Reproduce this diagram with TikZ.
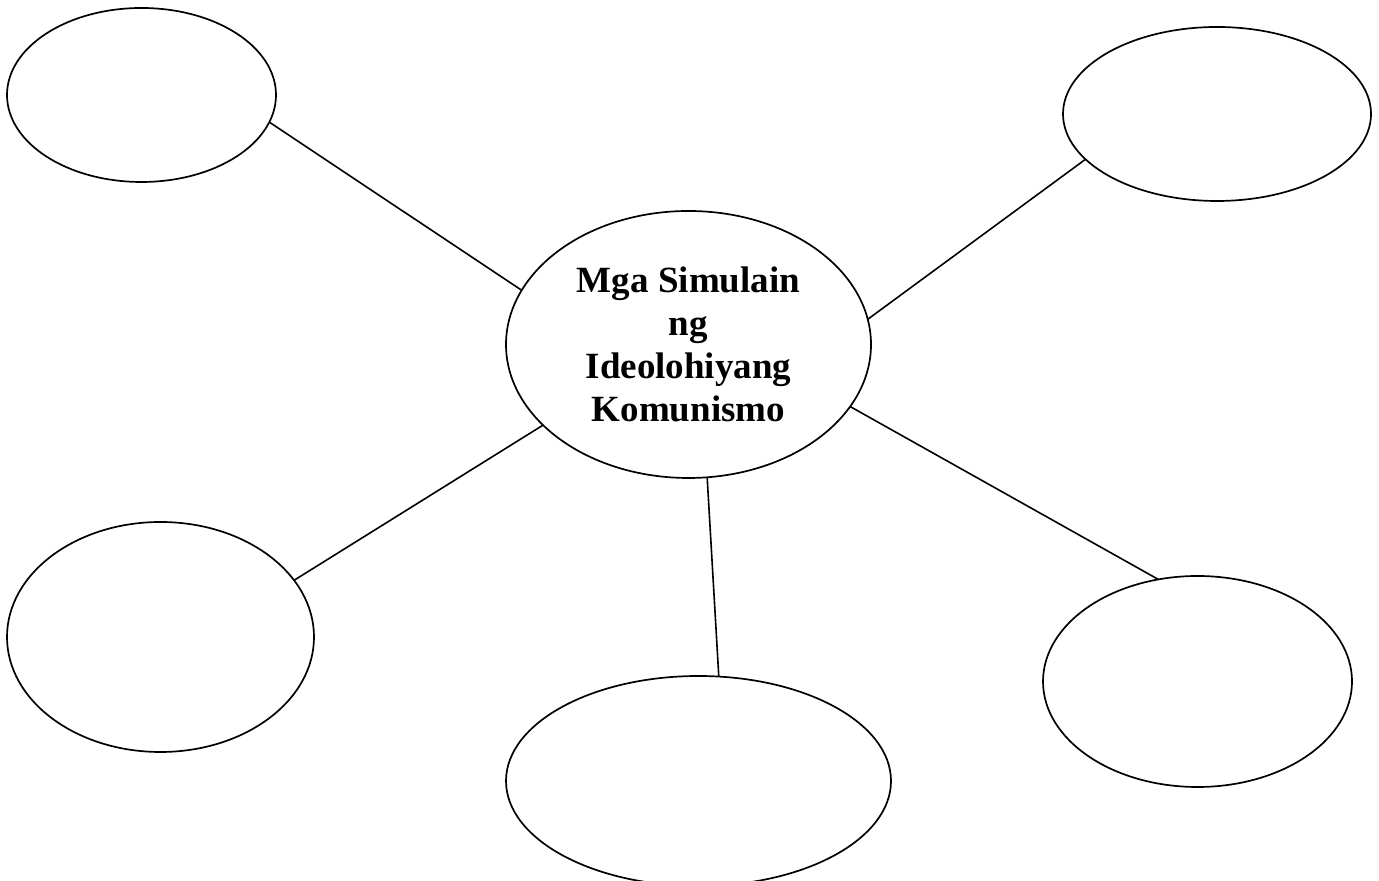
\documentclass[tikz,border=0pt]{standalone}
\usepackage{fontspec}
\setmainfont{Liberation Serif}
\usetikzlibrary{shapes.geometric}
\begin{document}
\begin{tikzpicture}[x=0.5pt,y=0.5pt,
  bubble/.style={draw=black,line width=0.85pt,ellipse,inner sep=0pt,outer sep=0pt,fill=white},
  link/.style={draw=black,line width=0.8pt}]
\useasboundingbox (0,0) rectangle (1379,881);
\node[bubble,minimum width=134.5pt,minimum height=87pt] (tl) at (141.5,786) {};
\node[bubble,minimum width=154pt,minimum height=87pt] (tr) at (1217,767) {};
\node[bubble,minimum width=182.5pt,minimum height=133.5pt,align=center,
  font=\fontsize{18.5}{21.4}\selectfont\bfseries] (c) at (688.5,536.5)
  {Mga Simulain\\ng\\Ideolohiyang\\Komunismo};
\node[bubble,minimum width=153.5pt,minimum height=115pt] (bl) at (160.5,244) {};
\node[bubble,minimum width=192.5pt,minimum height=105pt] (bm) at (698.5,100) {};
\node[bubble,minimum width=154.5pt,minimum height=105.5pt] (br) at (1197.5,199.5) {};
\draw[link] (tl.-12) -- (c.162.5);
\draw[link] (tr.199.7) -- (c.8.9);
\draw[link] (bl.23.2) -- (c.209.9);
\draw[link] (c.278.2) -- (bm.79.5);
\draw[link] (c.-21) -- (br.111.1);
\end{tikzpicture}
\end{document}
